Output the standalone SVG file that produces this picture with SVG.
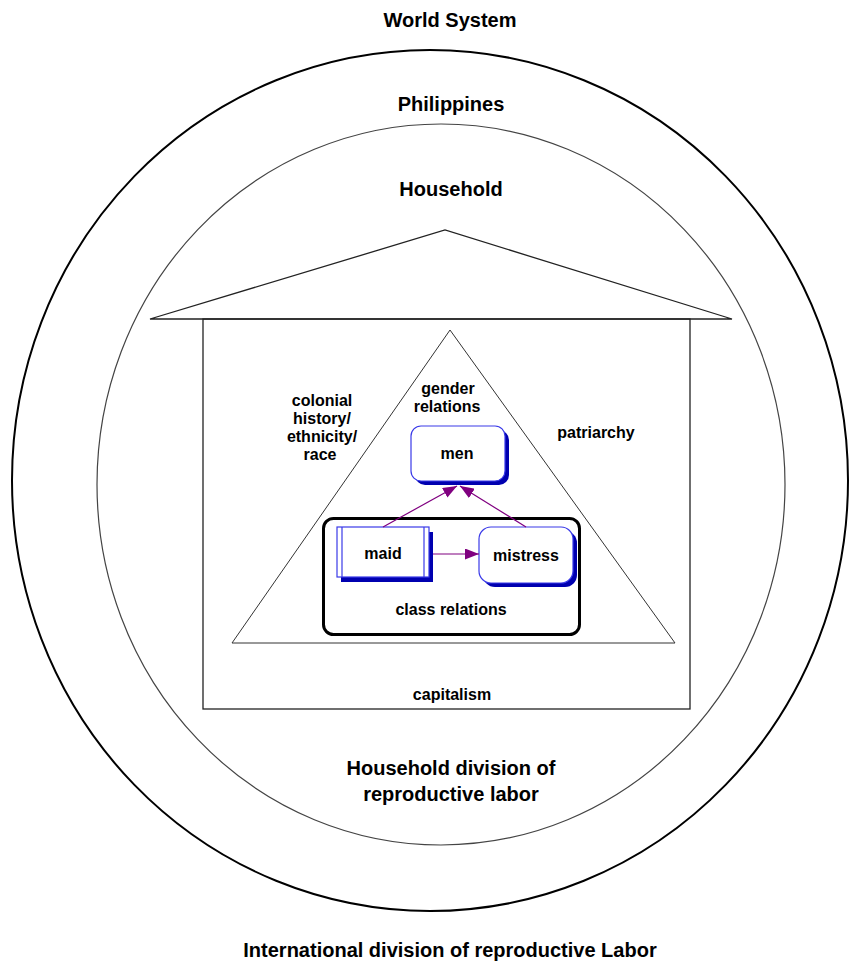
<svg xmlns="http://www.w3.org/2000/svg" width="849" height="962" viewBox="0 0 849 962">
<style>
.t{font-family:"Liberation Sans",Arial,sans-serif;font-weight:bold;fill:#000;text-anchor:middle}
.big{font-size:20px}
.sm{font-size:16px}
.shadow{fill:#0000b0;stroke:none}
.box{fill:#fff;stroke:#3a3ae8;stroke-width:1.2}
.conn{stroke:#800080;stroke-width:1.2;fill:none}
</style>
<defs>
<marker id="ah" viewBox="0 0 14 11" refX="14" refY="5.5" markerWidth="14" markerHeight="11" markerUnits="userSpaceOnUse" orient="auto">
<path d="M0,0 L14,5.5 L0,11 z" fill="#800080"/>
</marker>
</defs>
<rect width="849" height="962" fill="#fff"/>
<g id="world">
<ellipse cx="430" cy="480.5" rx="418" ry="430.5" fill="none" stroke="#000" stroke-width="2"/>
<text class="t big" x="450" y="27">World System</text>
<text class="t big" x="450" y="957">International division of reproductive Labor</text>
</g>
<g id="philippines">
<ellipse cx="441" cy="484.5" rx="344" ry="360.5" fill="none" stroke="#444" stroke-width="1.2"/>
<text class="t big" x="451" y="111">Philippines</text>
<text class="t big" x="451" y="775">Household division of</text>
<text class="t big" x="451" y="801">reproductive labor</text>
</g>
<g id="household">
<polygon points="150,319 445,230 732,319" fill="none" stroke="#222" stroke-width="1.3"/>
<rect x="203" y="319" width="487" height="390" fill="none" stroke="#222" stroke-width="1.3"/>
<text class="t big" x="451" y="196">Household</text>
<text class="t sm" x="452" y="700">capitalism</text>
<text class="t sm" x="322" y="406">colonial</text>
<text class="t sm" x="322" y="424">history/</text>
<text class="t sm" x="322" y="442">ethnicity/</text>
<text class="t sm" x="320" y="460">race</text>
<text class="t sm" x="596" y="438">patriarchy</text>
</g>
<g id="gender">
<polygon points="450,330 232,643 675,643" fill="none" stroke="#333" stroke-width="1"/>
<text class="t sm" x="448" y="394">gender</text>
<text class="t sm" x="447" y="412">relations</text>
</g>
<g id="class">
<rect x="323.5" y="518.5" width="256" height="116" rx="10" fill="none" stroke="#000" stroke-width="3"/>
<text class="t sm" x="451" y="615">class relations</text>
</g>
<g id="men">
<rect class="shadow" x="415" y="430" width="94" height="55" rx="10"/>
<rect class="box" x="411" y="426" width="94" height="55" rx="10"/>
<text class="t sm" x="457" y="459">men</text>
</g>
<g id="maid">
<rect class="shadow" x="341" y="532" width="92" height="50"/>
<rect class="box" x="337" y="527" width="92" height="50"/>
<line x1="342" y1="527" x2="342" y2="577" stroke="#3a3ae8" stroke-width="1.2"/>
<line x1="424" y1="527" x2="424" y2="577" stroke="#3a3ae8" stroke-width="1.2"/>
<text class="t sm" x="383" y="559">maid</text>
</g>
<g id="mistress">
<rect class="shadow" x="483" y="531" width="94" height="56" rx="12"/>
<rect class="box" x="479" y="527" width="94" height="56" rx="12"/>
<text class="t sm" x="526" y="561">mistress</text>
</g>
<g id="connectors">
<line class="conn" x1="433" y1="554" x2="479" y2="554" marker-end="url(#ah)"/>
<line class="conn" x1="383" y1="527" x2="457" y2="486" marker-end="url(#ah)"/>
<line class="conn" x1="526" y1="527" x2="460" y2="486" marker-end="url(#ah)"/>
</g>
</svg>
